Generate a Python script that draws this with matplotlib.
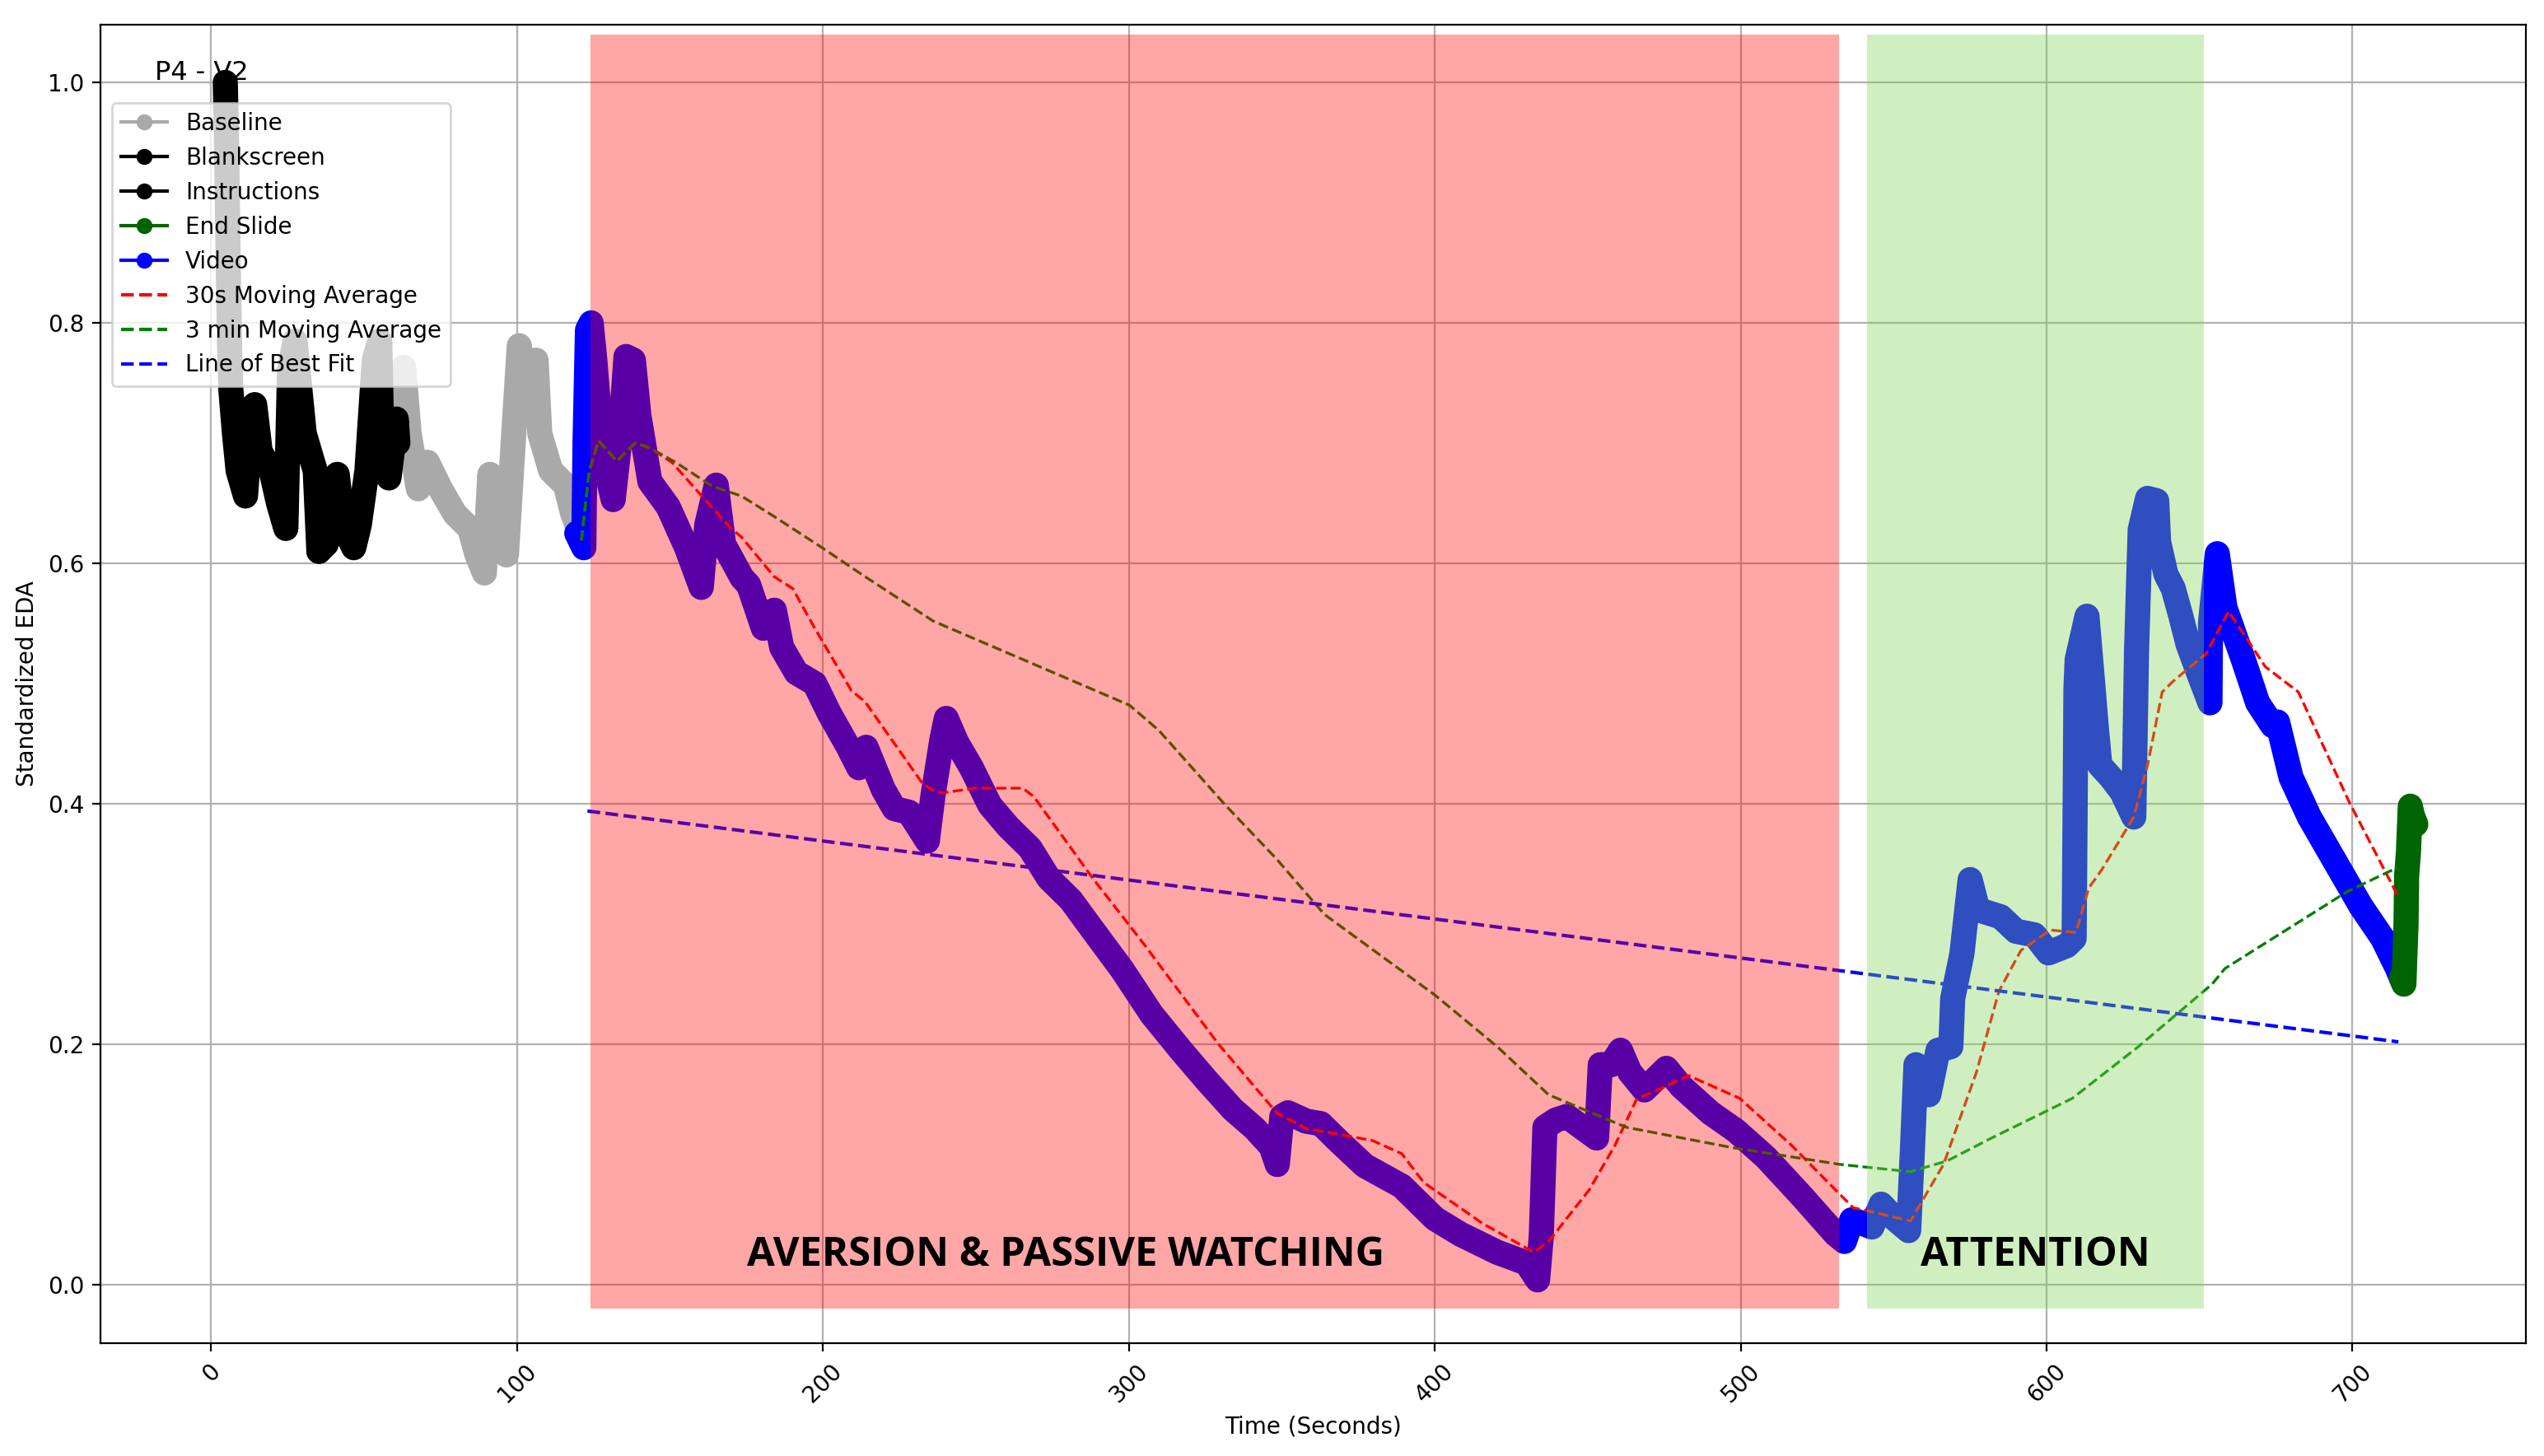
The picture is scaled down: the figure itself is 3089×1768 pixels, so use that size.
import matplotlib
matplotlib.use('Agg')
import matplotlib.pyplot as plt
from matplotlib.lines import Line2D

# ---------------- data ----------------
blank_t = [4.6, 5.0, 5.5, 6.0, 6.4, 7.6, 8.8, 11.2, 12.5, 14.2, 16.0, 19.6, 22.0, 24.4,
           25.6, 27.4, 30.4, 34.0, 35.2]
blank_v = [1.0, 0.95, 0.86, 0.78, 0.745, 0.708, 0.677, 0.656, 0.70, 0.732, 0.693, 0.677,
           0.65, 0.629, 0.76, 0.785, 0.708, 0.677, 0.61]

instr_t = [35.2, 37.6, 41.2, 43.0, 46.6, 48.4, 50.9, 53.3, 55.1, 55.7, 58.1, 60.5, 61.0]
instr_v = [0.61, 0.616, 0.674, 0.632, 0.613, 0.632, 0.677, 0.769, 0.785, 0.708, 0.671,
           0.72, 0.70]

base_t = [61.0, 62.9, 64.7, 67.7, 70.7, 74.9, 79.7, 84.5, 86.9, 89.3, 91.1, 92.9, 96.5,
          98.9, 100.7, 102.5, 106.2, 107.4, 111.0, 115.8, 118.2, 120.0]
base_v = [0.70, 0.763, 0.708, 0.662, 0.684, 0.662, 0.641, 0.629, 0.607, 0.592, 0.674,
          0.616, 0.607, 0.708, 0.781, 0.748, 0.769, 0.708, 0.677, 0.665, 0.641, 0.629]

video_t = [119.5, 121.8, 122.2, 123.0, 124.2, 125.4, 127.8, 131.4, 133.8, 135.6, 138.0,
           139.8, 143.4, 149.4, 155.4, 160.2, 162.0, 165.1, 167.5, 173.5, 175.7, 180.5,
           184.1, 186.5, 191.3, 197.3, 202.1, 208.1, 211.7, 214.1, 219.7, 223.3, 228.1,
           234.1, 235.9, 238.9, 240.3, 243.7, 248.5, 254.5, 260.5, 267.7, 273.8, 281.0,
           288.2, 297.8, 307.4, 317.0, 325.4, 333.9, 341.1, 346.5, 348.5, 350.0, 352.0,
           358.0, 362.7, 368.7, 377.1, 389.2, 400.0, 408.4, 420.4, 430.0, 433.6, 434.8,
           436.0, 439.6, 443.2, 452.9, 454.1, 457.7, 460.7, 463.7, 468.5, 475.7, 480.5,
           490.1, 498.5, 508.2, 520.2, 531.0, 533.9, 536.3, 539.9, 542.9, 545.9, 550.7,
           554.9, 556.1, 557.3, 561.5, 564.5, 568.7, 569.3, 572.3, 575.0, 577.5, 585.0,
           590.0, 596.0, 600.6, 606.6, 609.0, 609.3, 609.6, 610.0, 613.2, 615.0, 616.2,
           617.4, 621.0, 624.6, 628.5, 629.4, 630.6, 633.0, 636.0, 636.6, 639.0, 641.4,
           643.8, 646.2, 649.8, 653.4, 653.6, 655.8, 658.3, 664.3, 669.0, 673.9, 675.5,
           677.5, 679.9, 685.9, 694.3, 702.7, 709.9, 714.7, 716.0]
video_v = [0.625, 0.613, 0.70, 0.794, 0.80, 0.769, 0.693, 0.653, 0.708, 0.772, 0.769,
           0.723, 0.668, 0.647, 0.613, 0.58, 0.632, 0.665, 0.616, 0.588, 0.582, 0.546,
           0.561, 0.530, 0.509, 0.500, 0.475, 0.448, 0.43, 0.447, 0.412, 0.396, 0.393,
           0.369, 0.406, 0.454, 0.471, 0.451, 0.43, 0.399, 0.381, 0.363, 0.338, 0.32,
           0.295, 0.262, 0.225, 0.195, 0.17, 0.146, 0.13, 0.115, 0.10, 0.14, 0.143,
           0.136, 0.134, 0.119, 0.099, 0.082, 0.055, 0.042, 0.027, 0.018, 0.004, 0.04,
           0.131, 0.137, 0.14, 0.122, 0.183, 0.183, 0.195, 0.177, 0.162, 0.18, 0.165,
           0.143, 0.128, 0.106, 0.073, 0.042, 0.036, 0.054, 0.051, 0.048, 0.067, 0.054,
           0.045, 0.11, 0.183, 0.158, 0.195, 0.198, 0.238, 0.275, 0.337, 0.312, 0.306,
           0.294, 0.291, 0.276, 0.282, 0.288, 0.386, 0.496, 0.52, 0.556, 0.502, 0.465,
           0.432, 0.422, 0.41, 0.389, 0.527, 0.628, 0.654, 0.652, 0.618, 0.591, 0.579,
           0.557, 0.533, 0.508, 0.484, 0.551, 0.608, 0.563, 0.52, 0.484, 0.465, 0.468,
           0.447, 0.422, 0.389, 0.352, 0.315, 0.288, 0.263, 0.255]

end_t = [716.0, 716.8, 717.5, 717.7, 718.3, 718.9, 719.6, 720.7]
end_v = [0.255, 0.25, 0.30, 0.34, 0.36, 0.398, 0.39, 0.383]

ma30_t = [121.0, 123.6, 126.6, 132.6, 138.6, 143.4, 150.6, 161.4, 169.9, 173.3, 184.0,
          190.1, 197.3, 209.3, 213.7, 232.2, 235.3, 238.9, 249.7, 265.3, 268.9, 288.2,
          305.0, 329.0, 348.3, 357.9, 379.5, 389.2, 396.4, 415.6, 432.4, 437.2, 450.5,
          458.9, 466.1, 472.1, 482.9, 499.7, 516.6, 528.6, 536.8, 542.3, 555.5, 566.3,
          577.1, 584.4, 591.6, 601.2, 609.6, 613.8, 618.0, 628.5, 633.0, 637.8, 641.4,
          652.2, 659.5, 671.5, 682.3, 699.0, 714.7]
ma30_v = [0.619, 0.677, 0.702, 0.685, 0.70, 0.696, 0.684, 0.653, 0.629, 0.622, 0.589,
          0.579, 0.546, 0.494, 0.485, 0.418, 0.412, 0.409, 0.413, 0.413, 0.406, 0.338,
          0.283, 0.201, 0.143, 0.130, 0.12, 0.109, 0.085, 0.051, 0.027, 0.036, 0.079,
          0.116, 0.155, 0.161, 0.174, 0.155, 0.116, 0.085, 0.064, 0.061, 0.053, 0.10,
          0.177, 0.244, 0.278, 0.295, 0.293, 0.33, 0.345, 0.389, 0.432, 0.493, 0.502,
          0.525, 0.56, 0.514, 0.493, 0.401, 0.324]

ma180_t = [121.0, 123.6, 126.6, 132.6, 138.6, 143.4, 151.8, 163.9, 173.3, 184.0, 199.7,
           213.7, 236.0, 300.2, 309.8, 331.5, 348.3, 363.9, 400.0, 420.4, 437.2, 462.5,
           497.3, 532.7, 555.5, 567.5, 582.0, 608.4, 630.0, 654.1, 658.3, 698.3, 714.7]
ma180_v = [0.619, 0.677, 0.702, 0.685, 0.70, 0.696, 0.684, 0.664, 0.656, 0.639, 0.613,
           0.589, 0.552, 0.482, 0.461, 0.399, 0.354, 0.308, 0.241, 0.198, 0.158, 0.131,
           0.114, 0.10, 0.094, 0.103, 0.122, 0.155, 0.198, 0.25, 0.263, 0.327, 0.347]

fit_t = [123.0, 715.0]
fit_v = [0.394, 0.202]

phase_labels = ['AVERSION & PASSIVE WATCHING', 'ATTENTION']
phase_start = [124.0, 541.4]
phase_end = [532.1, 651.4]
phase_label_x = [279.3, 596.4]
phase_colors = [('red', 0.35), ('#81D656', 0.37)]

title = 'P4 - V2'

# ---------------- figure ----------------
fig = plt.figure(figsize=(15.445, 8.84), dpi=200)
ax = fig.add_axes([0.0395, 0.0775, 0.9534, 0.9058])

kw = dict(lw=11, solid_capstyle='round', solid_joinstyle='round', zorder=2)
ax.plot(base_t, base_v, color='darkgray', **kw)
ax.plot(blank_t, blank_v, color='black', **kw)
ax.plot(instr_t, instr_v, color='black', **kw)
ax.plot(video_t, video_v, color='blue', **kw)
ax.plot(end_t, end_v, color='darkgreen', **kw)

ax.plot(ma30_t, ma30_v, color='red', ls='--', lw=1.2, zorder=2.1)
ax.plot(ma180_t, ma180_v, color='green', ls='--', lw=1.2, zorder=2.2)
ax.plot(fit_t, fit_v, color='blue', ls='--', lw=1.5, zorder=2.3)

for s, e, (c, a), lab, lx in zip(phase_start, phase_end, phase_colors,
                                 phase_labels, phase_label_x):
    ax.fill_between([s, e], -0.02, 1.04, color=c, alpha=a, lw=0, zorder=3)
    ax.text(lx, 0.016, lab, ha='center', va='baseline', fontsize=17.6,
            fontweight='bold', family=['Open Sans', 'DejaVu Sans'], zorder=4)

ax.text(-3, 1.002, title, ha='center', va='baseline', fontsize=11.5, zorder=4)

ax.set_xlim(-36.2, 756.7)
ax.set_ylim(-0.0486, 1.0483)
ax.set_xticks(range(0, 701, 100))
ax.set_yticks([0.0, 0.2, 0.4, 0.6, 0.8, 1.0])
ax.tick_params(axis='x', labelrotation=45)
ax.grid(True)
ax.set_xlabel('Time (Seconds)')
ax.set_ylabel('Standardized EDA')

handles = [
    Line2D([0], [0], color='darkgray', marker='o', lw=1.5, ms=6),
    Line2D([0], [0], color='black', marker='o', lw=1.5, ms=6),
    Line2D([0], [0], color='black', marker='o', lw=1.5, ms=6),
    Line2D([0], [0], color='darkgreen', marker='o', lw=1.5, ms=6),
    Line2D([0], [0], color='blue', marker='o', lw=1.5, ms=6),
    Line2D([0], [0], color='red', ls='--', lw=1.5),
    Line2D([0], [0], color='green', ls='--', lw=1.5),
    Line2D([0], [0], color='blue', ls='--', lw=1.5),
]
labels = ['Baseline', 'Blankscreen', 'Instructions', 'End Slide', 'Video',
          '30s Moving Average', '3 min Moving Average', 'Line of Best Fit']
leg = ax.legend(handles, labels, loc='upper left', bbox_to_anchor=(0, 0.949))
leg.set_zorder(5)

fig.savefig('out.png', dpi=200)
